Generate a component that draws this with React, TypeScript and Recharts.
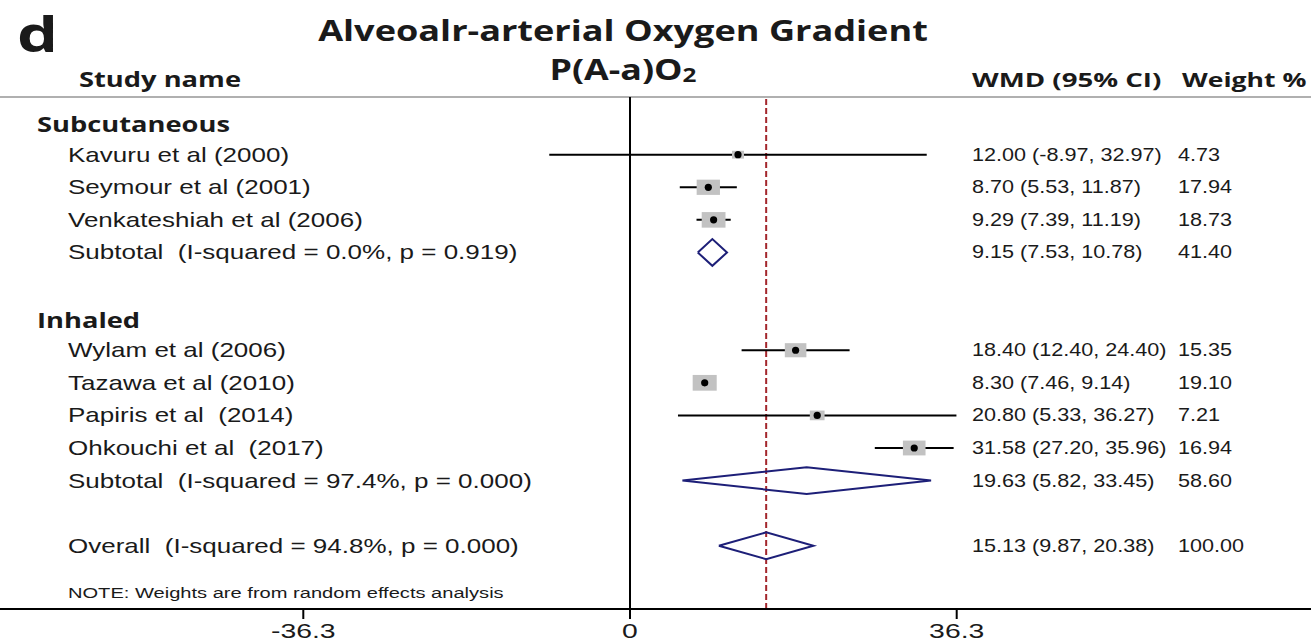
import {
  ComposedChart,
  ErrorBar,
  Line,
  ReferenceLine,
  Scatter,
  XAxis,
  YAxis,
} from "recharts";

// study rows (row index counts from the top of the table)
const studyNames = [
  "Kavuru et al (2000)",
  "Seymour et al (2001)",
  "Venkateshiah et al (2006)",
  "Wylam et al (2006)",
  "Tazawa et al (2010)",
  "Papiris et al  (2014)",
  "Ohkouchi et al  (2017)",
];
const studyRows = [1, 2, 3, 7, 8, 9, 10];
const studyWmd = [12.0, 8.7, 9.29, 18.4, 8.3, 20.8, 31.58];
const studyLow = [-8.97, 5.53, 7.39, 12.4, 7.46, 5.33, 27.2];
const studyHigh = [32.97, 11.87, 11.19, 24.4, 9.14, 36.27, 35.96];
const studyWeight = [4.73, 17.94, 18.73, 15.35, 19.1, 7.21, 16.94];

// pooled estimates
const pooledNames = [
  "Subtotal  (I-squared = 0.0%, p = 0.919)",
  "Subtotal  (I-squared = 97.4%, p = 0.000)",
  "Overall  (I-squared = 94.8%, p = 0.000)",
];
const pooledRows = [4, 11, 13];
const pooledWmd = [9.15, 19.63, 15.13];
const pooledLow = [7.53, 5.82, 9.87];
const pooledHigh = [10.78, 33.45, 20.38];
const pooledWeight = [41.4, 58.6, 100.0];

const groupNames = ["Subcutaneous", "Inhaled"];
const groupRows = [0, 6];

const xTicks = [-36.3, 0, 36.3];
const overallWmd = pooledWmd[2];

const W = 1311;
const H = 644;
const PX_PER_UNIT = 9;
const ZERO_X = 630;
const xDomain = [-ZERO_X / PX_PER_UNIT, (W - ZERO_X) / PX_PER_UNIT];
const yDomain = [-0.77, 14.94];
const DIAMOND_HALF = 0.41;

const SANS = "'Liberation Sans', Arial, sans-serif";
const BOLD = "'Open Sans', 'Noto Sans', sans-serif";
const INK = "#1a1a1a";

type RowKind = "group" | "study" | "pooled";
interface TableRow {
  kind: RowKind;
  label: string;
  x: number;
  y: number;
  wmd?: number;
  low?: number;
  high?: number;
  weight?: number;
}

// one entry per table row; x is only used to anchor the text layer
const tableRows: TableRow[] = [
  ...groupNames.map((label, i) => ({
    kind: "group" as RowKind,
    label,
    x: 0,
    y: groupRows[i],
  })),
  ...studyNames.map((label, i) => ({
    kind: "study" as RowKind,
    label,
    x: 0,
    y: studyRows[i],
    wmd: studyWmd[i],
    low: studyLow[i],
    high: studyHigh[i],
    weight: studyWeight[i],
  })),
  ...pooledNames.map((label, i) => ({
    kind: "pooled" as RowKind,
    label,
    x: 0,
    y: pooledRows[i],
    wmd: pooledWmd[i],
    low: pooledLow[i],
    high: pooledHigh[i],
    weight: pooledWeight[i],
  })),
];

const studyPoints = studyNames.map((name, i) => ({
  name,
  x: studyWmd[i],
  y: studyRows[i],
  weight: studyWeight[i],
  ci: [studyWmd[i] - studyLow[i], studyHigh[i] - studyWmd[i]],
}));

const diamonds = pooledRows.map((row, i) => [
  { x: pooledLow[i], y: row },
  { x: pooledWmd[i], y: row - DIAMOND_HALF },
  { x: pooledHigh[i], y: row },
  { x: pooledWmd[i], y: row + DIAMOND_HALF },
  { x: pooledLow[i], y: row },
]);

const fmt = (v: number) => v.toFixed(2);

// text stretched horizontally around its anchor point
const Wide = ({
  x,
  y,
  size,
  sx = 1.2,
  bold = false,
  family = SANS,
  anchor = "start",
  children,
}: {
  x: number;
  y: number;
  size: number;
  sx?: number;
  bold?: boolean;
  family?: string;
  anchor?: "start" | "middle" | "end";
  children: React.ReactNode;
}) => (
  <text
    transform={`translate(${x},${y}) scale(${sx},1)`}
    fontSize={size}
    fontFamily={family}
    fontWeight={bold ? 700 : 400}
    fill={INK}
    textAnchor={anchor}
    style={{ whiteSpace: "pre" }}
  >
    {children}
  </text>
);

// table text for one row, placed on the row's y from the scale
const RowText = (props: any) => {
  const { cy, payload } = props;
  const row: TableRow = payload;
  const base = cy + 7;
  if (row.kind === "group") {
    return (
      <Wide x={37} y={base + 3} size={21} sx={1.3} bold family={BOLD}>
        {row.label}
      </Wide>
    );
  }
  return (
    <g>
      <Wide x={68} y={base} size={20} sx={1.3}>
        {row.label}
      </Wide>
      <Wide x={972} y={base - 1} size={18} sx={1.2}>
        {`${fmt(row.wmd!)} (${fmt(row.low!)}, ${fmt(row.high!)})`}
      </Wide>
      <Wide x={1178} y={base - 1} size={18} sx={1.2}>
        {fmt(row.weight!)}
      </Wide>
    </g>
  );
};

const AxisTick = (props: any) => {
  const { x, y, payload } = props;
  return (
    <Wide x={x} y={y + 13} size={21} sx={1.35} anchor="middle">
      {String(payload.value)}
    </Wide>
  );
};

const WeightBox = (props: any) => {
  const { cx, cy, payload } = props;
  const w = 5.5 * Math.sqrt(payload.weight);
  const h = 3.6 * Math.sqrt(payload.weight);
  return <rect x={cx - w / 2} y={cy - h / 2} width={w} height={h} fill="#c2c2c2" />;
};

const Dot = (props: any) => {
  const { cx, cy } = props;
  return <circle cx={cx} cy={cy} r={3.6} fill="#000" />;
};

export default function App() {
  return (
    <div style={{ position: "absolute", left: 0, top: 0, background: "#fff" }}>
      <ComposedChart
        width={W}
        height={H}
        margin={{ top: 97, right: 0, bottom: 0, left: 0 }}
      >
        <Wide x={17} y={52} size={48} sx={1.35} bold family={BOLD}>
          d
        </Wide>
        <Wide x={623} y={41} size={28} sx={1.29} bold family={BOLD} anchor="middle">
          Alveoalr-arterial Oxygen Gradient
        </Wide>
        <Wide x={623} y={80} size={28} sx={1.28} bold family={BOLD} anchor="middle">
          P(A-a)O<tspan fontSize={19} dy={2}>2</tspan>
        </Wide>
        <Wide x={79} y={87} size={21} sx={1.3} bold family={BOLD}>
          Study name
        </Wide>
        <Wide x={972} y={87} size={20} sx={1.38} bold family={BOLD}>
          WMD (95% CI)
        </Wide>
        <Wide x={1182} y={87} size={20} sx={1.33} bold family={BOLD}>
          Weight %
        </Wide>
        <Wide x={68} y={598} size={15} sx={1.34}>
          NOTE: Weights are from random effects analysis
        </Wide>

        <XAxis
          type="number"
          dataKey="x"
          domain={xDomain}
          ticks={xTicks}
          interval={0}
          allowDataOverflow
          height={35}
          axisLine={{ stroke: "#000", strokeWidth: 2 }}
          tickLine={{ stroke: "#000", strokeWidth: 2 }}
          tickSize={10}
          tickMargin={6}
          tick={<AxisTick />}
        />
        <YAxis
          type="number"
          dataKey="y"
          domain={yDomain}
          reversed
          allowDataOverflow
          hide
        />

        <ReferenceLine y={yDomain[0]} stroke="#b0b0b0" strokeWidth={2} />
        <ReferenceLine x={0} stroke="#000" strokeWidth={2} />
        <ReferenceLine
          x={overallWmd}
          stroke="#a3262c"
          strokeWidth={2}
          strokeDasharray="6 3"
        />

        <Scatter data={tableRows} shape={<RowText />} isAnimationActive={false} />

        <Scatter
          data={studyPoints}
          shape={<WeightBox />}
          isAnimationActive={false}
        />
        <Scatter data={studyPoints} shape={<Dot />} isAnimationActive={false}>
          <ErrorBar
            dataKey="ci"
            direction="x"
            width={0}
            stroke="#000"
            strokeWidth={2}
            isAnimationActive={false}
          />
        </Scatter>

        {diamonds.map((pts, i) => (
          <Line
            key={pooledNames[i]}
            data={pts}
            dataKey="y"
            type="linear"
            stroke="#1d1f78"
            strokeWidth={2}
            dot={false}
            isAnimationActive={false}
          />
        ))}
      </ComposedChart>
    </div>
  );
}
